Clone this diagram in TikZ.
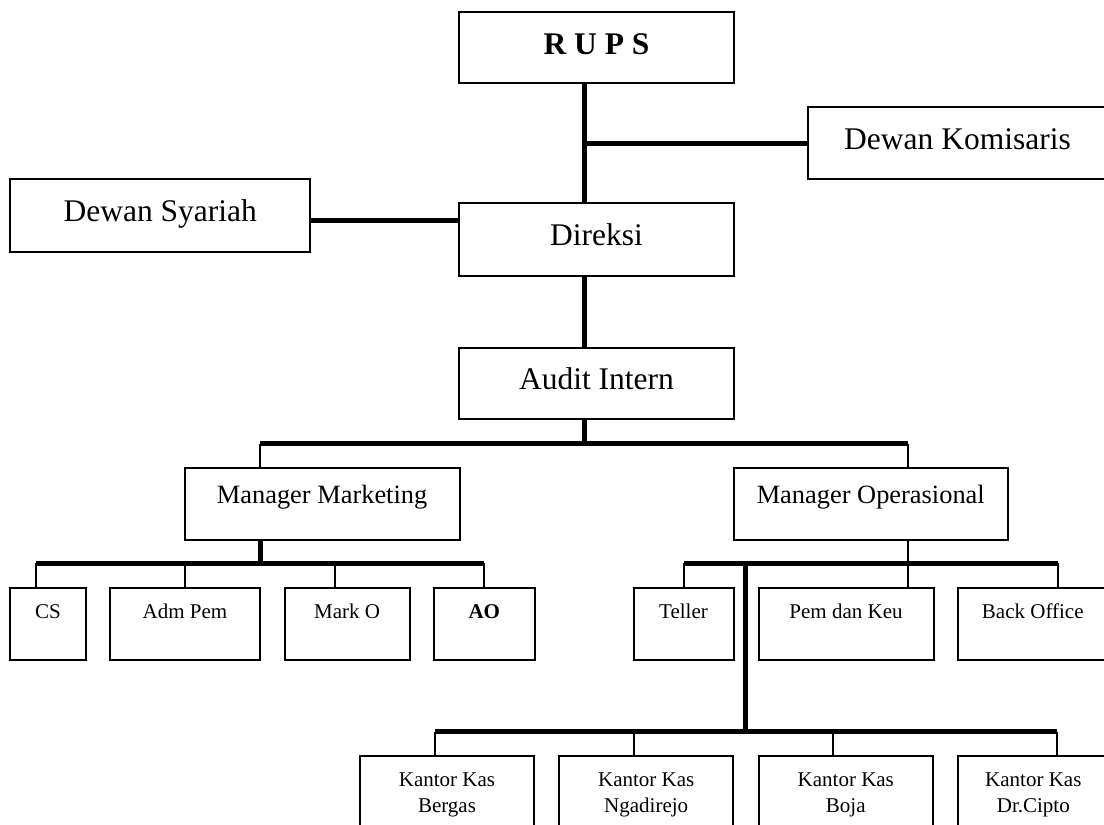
\documentclass[tikz,border=0pt]{standalone}
\usepackage{fontspec}
\setmainfont{Liberation Serif}
\newcommand\twolines[2]{\vtop{\halign{\hfil##\hfil\cr#1\cr#2\cr}}}
\begin{document}
\begin{tikzpicture}[x=1pt,y=-1pt,
  bx/.style={draw, line width=2pt, inner sep=0pt, outer sep=0pt, text depth=0pt},
  big/.style={bx, minimum width=275pt, font=\fontsize{31.5}{38}\selectfont},
  mgr/.style={bx, minimum height=72.3pt, font=\fontsize{26.4}{32}\selectfont, text height=0pt},
  sm/.style={bx, minimum height=72pt, font=\fontsize{21}{26}\selectfont, text height=0pt, text depth=12pt},
  kk/.style={bx, minimum height=80pt, font=\fontsize{21}{26.7}\selectfont, text height=0pt, text depth=20pt},
  thk/.style={line width=5pt},
  thn/.style={line width=2pt}]
\useasboundingbox (0,0) rectangle (1104,825);
\clip (0,0) rectangle (1104,825);
\fill[white] (0,0) rectangle (1104,825);

% top part
\node[big, minimum height=71pt, text height=13.6pt] (rups) at (596.5,47.2) {\bfseries R U P S};
\node[big, minimum width=299pt, minimum height=71.7pt, text height=12.2pt] (kom) at (957.5,143.2) {Dewan Komisaris};
\node[big, minimum width=299.5pt, minimum height=72.5pt, text height=12pt] (sya) at (160.2,215.7) {Dewan Syariah};
\node[big, minimum height=73pt, text height=11pt] (dir) at (596.5,239.5) {Direksi};
\node[big, minimum height=71.5pt, text height=10.6pt] (aud) at (596.5,383.7) {Audit Intern};

% managers
\node[mgr, minimum width=275pt] (mm) at (322.1,503.9) {Manager Marketing};
\node[mgr, minimum width=274.5pt] (mo) at (870.75,503.9) {Manager Operasional};

% marketing staff
\node[sm, minimum width=75.7pt] (cs) at (47.9,624) {CS};
\node[sm, minimum width=150pt] (adm) at (185,624) {Adm Pem};
\node[sm, minimum width=125pt] (mk) at (347.1,624) {Mark O};
\node[sm, minimum width=100.6pt] (ao) at (484.3,624) {\bfseries AO};

% operational staff
\node[sm, minimum width=100pt] (tel) at (683.5,624) {Teller};
\node[sm, minimum width=175pt] (pem) at (846,624) {Pem dan Keu};
\node[sm, minimum width=150.2pt] (bk) at (1032.8,624) {Back Office};

% kantor kas
\node[kk, minimum width=174pt] (k1) at (447,796) {\twolines{Kantor Kas}{Bergas}};
\node[kk, minimum width=174.4pt] (k2) at (646.2,796) {\twolines{Kantor Kas}{Ngadirejo}};
\node[kk, minimum width=174.4pt] (k3) at (845.8,796) {\twolines{Kantor Kas}{Boja}};
\node[kk, minimum width=150.6pt] (k4) at (1033.3,796) {\twolines{Kantor Kas}{Dr.Cipto}};

% helper coordinates
\coordinate (tk) at (584.5,0);
\coordinate (sl) at (0,220);
\coordinate (b1) at (0,443.7);
\coordinate (b2) at (0,563.3);
\coordinate (b3) at (0,731.7);
\coordinate (mmx) at (260,0);
\coordinate (mox) at (908,0);
\coordinate (csx) at (35.7,0);
\coordinate (admx) at (185,0);
\coordinate (mkx) at (334.6,0);
\coordinate (aox) at (484,0);
\coordinate (telx) at (684,0);
\coordinate (bkx) at (1057.7,0);
\coordinate (kx) at (745.5,0);
\coordinate (k1x) at (434.5,0);
\coordinate (k2x) at (633.8,0);
\coordinate (k3x) at (833,0);
\coordinate (k4x) at (1057.3,0);

% top connectors
\draw[thk] (rups.south -| tk) -- (dir.north -| tk);
\draw[thk] (kom.west) -- (kom.west -| tk);
\draw[thk] (sya.east |- sl) -- (dir.west |- sl);
\draw[thk] (dir.south -| tk) -- (aud.north -| tk);
\draw[thk] (aud.south -| tk) -- (tk |- b1);
\draw[thk] (mmx |- b1) -- (mox |- b1);
\draw[thn] (mmx |- b1) -- (mm.north -| mmx);
\draw[thn] (mox |- b1) -- (mo.north -| mox);

% marketing branch
\draw[thk] (mm.south -| mmx) -- (mmx |- b2);
\draw[thk] (csx |- b2) -- (aox |- b2);
\draw[thn] (csx |- b2) -- (cs.north -| csx);
\draw[thn] (admx |- b2) -- (adm.north -| admx);
\draw[thn] (mkx |- b2) -- (mk.north -| mkx);
\draw[thn] (aox |- b2) -- (ao.north -| aox);

% operational branch
\draw[thn] (mo.south -| mox) -- (mox |- b2);
\draw[thk] (telx |- b2) -- (bkx |- b2);
\draw[thn] (telx |- b2) -- (tel.north -| telx);
\draw[thn] (mox |- b2) -- (pem.north -| mox);
\draw[thn] (bkx |- b2) -- (bk.north -| bkx);
\draw[thk] (kx |- b2) -- (kx |- b3);

% kantor kas branch
\draw[thk] (k1x |- b3) -- (k4x |- b3);
\draw[thn] (k1x |- b3) -- (k1.north -| k1x);
\draw[thn] (k2x |- b3) -- (k2.north -| k2x);
\draw[thn] (k3x |- b3) -- (k3.north -| k3x);
\draw[thn] (k4x |- b3) -- (k4.north -| k4x);
\end{tikzpicture}
\end{document}
